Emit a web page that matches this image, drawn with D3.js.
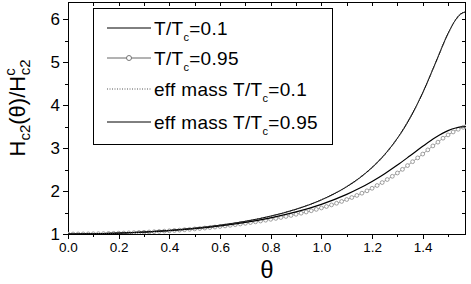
<!DOCTYPE html>
<html>
<head>
<meta charset="utf-8">
<script src="https://cdnjs.cloudflare.com/ajax/libs/d3/7.8.5/d3.min.js"></script>
<style>
    body { margin: 0; background: #fff; }
    svg { display: block; font-family: "Liberation Sans", Arial, sans-serif; }
    .axis path, .axis line { stroke: #000; stroke-width: 1; shape-rendering: crispEdges; }
</style>
</head>
<body>
<svg id="chart" width="471" height="284"></svg>
<script>

// theta grid for the smooth curves (rad)
var theta = [0, 0.1, 0.2, 0.3, 0.4, 0.5, 0.6, 0.7, 0.8, 0.9, 1.0, 1.1, 1.15, 1.2, 1.25,
    1.3, 1.35, 1.4, 1.45, 1.5, 1.53, 1.55, 1.5708];

// T/Tc = 0.1
var lowT = [1, 1.0049, 1.0198, 1.0454, 1.0831, 1.1350, 1.2042, 1.2954, 1.4157, 1.5762,
    1.7946, 2.1009, 2.3017, 2.5473, 2.8503, 3.2283, 3.7016, 4.2874, 4.9746, 5.6667,
    5.9877, 6.1210, 6.17];

// eff mass T/Tc = 0.1
var effLowT = [1, 1.0049, 1.0198, 1.0454, 1.0831, 1.1350, 1.2042, 1.2954, 1.4157, 1.5762,
    1.7946, 2.1009, 2.3017, 2.5473, 2.8503, 3.2283, 3.7016, 4.2874, 4.9746, 5.6667,
    5.9877, 6.1210, 6.17];

// eff mass T/Tc = 0.95
var effHighT = [1, 1.0046, 1.0187, 1.0427, 1.0778, 1.1258, 1.1891, 1.2712, 1.3770, 1.5136,
    1.6910, 1.9226, 2.0634, 2.2238, 2.4047, 2.6047, 2.8207, 3.0406, 3.2451, 3.4055,
    3.4678, 3.4915, 3.5];

// T/Tc = 0.95 (open circles), finer theta grid
var thetaFine = [0, 0.02, 0.04, 0.06, 0.08, 0.1, 0.12, 0.14, 0.16, 0.18, 0.2, 0.22, 0.24,
    0.26, 0.28, 0.3, 0.32, 0.34, 0.36, 0.38, 0.4, 0.42, 0.44, 0.46, 0.48, 0.5, 0.52, 0.54,
    0.56, 0.58, 0.6, 0.62, 0.64, 0.66, 0.68, 0.7, 0.72, 0.74, 0.76, 0.78, 0.8, 0.82, 0.84,
    0.86, 0.88, 0.9, 0.92, 0.94, 0.96, 0.98, 1.0, 1.02, 1.04, 1.06, 1.08, 1.1, 1.12, 1.14,
    1.16, 1.18, 1.2, 1.22, 1.24, 1.26, 1.28, 1.3, 1.32, 1.34, 1.36, 1.38, 1.4, 1.42, 1.44,
    1.46, 1.48, 1.5, 1.52, 1.54, 1.56, 1.5708];

var highT = [1.000, 1.000, 1.001, 1.002, 1.003, 1.005, 1.007, 1.009, 1.012, 1.015, 1.019,
    1.022, 1.026, 1.031, 1.036, 1.041, 1.047, 1.053, 1.060, 1.067, 1.074, 1.082, 1.090,
    1.099, 1.108, 1.118, 1.128, 1.139, 1.150, 1.162, 1.175, 1.188, 1.202, 1.217, 1.233,
    1.249, 1.266, 1.283, 1.302, 1.321, 1.342, 1.363, 1.384, 1.408, 1.432, 1.459, 1.484,
    1.512, 1.541, 1.573, 1.606, 1.640, 1.677, 1.716, 1.758, 1.803, 1.849, 1.898, 1.950,
    2.005, 2.064, 2.129, 2.197, 2.268, 2.343, 2.420, 2.505, 2.593, 2.683, 2.772, 2.861,
    2.958, 3.050, 3.138, 3.230, 3.306, 3.375, 3.437, 3.483, 3.500];

var xMajor = [0, 0.2, 0.4, 0.6, 0.8, 1.0, 1.2, 1.4];
var xMinor = [0.1, 0.3, 0.5, 0.7, 0.9, 1.1, 1.3, 1.5];
var yMajor = [1, 2, 3, 4, 5, 6];
var yMinor = [1.5, 2.5, 3.5, 4.5, 5.5];

var legendLabels = ["T/T|=0.1", "T/T|=0.95", "eff mass T/T|=0.1", "eff mass T/T|=0.95"];

(function () {

    var mLeft = 68, mRight = 466, mTop = 2, mBottom = 234;

    var svg = d3.select("#chart");

    var x = d3.scaleLinear().domain([0, Math.PI / 2]).range([mLeft, mRight]);
    var y = d3.scaleLinear().domain([1, 6.4]).range([mBottom, mTop]);

    // axes
    var fmt = d3.format(".1f");

    svg.append("g").attr("class", "axis").attr("transform", "translate(0," + mBottom + ")")
        .call(d3.axisBottom(x).tickValues(xMajor).tickFormat(fmt).tickSize(5).tickPadding(3))
        .call(function (g) {
            g.select(".domain").remove();
            g.selectAll("text").attr("font-size", 13.5).attr("font-family", "Liberation Sans, Arial");
        });
    svg.append("g").attr("class", "axis").attr("transform", "translate(0," + mBottom + ")")
        .call(d3.axisBottom(x).tickValues(xMinor).tickFormat("").tickSize(3))
        .call(function (g) { g.select(".domain").remove(); });

    svg.append("g").attr("class", "axis").attr("transform", "translate(0," + mTop + ")")
        .call(d3.axisTop(x).tickValues(xMajor.concat(xMinor)).tickFormat("").tickSize(-4))
        .call(function (g) { g.select(".domain").remove(); });

    svg.append("g").attr("class", "axis").attr("transform", "translate(" + mLeft + ",0)")
        .call(d3.axisLeft(y).tickValues(yMajor).tickFormat(d3.format("d")).tickSize(5).tickPadding(3))
        .call(function (g) {
            g.select(".domain").remove();
            g.selectAll("text").attr("font-size", 17).attr("font-family", "Liberation Sans, Arial");
        });
    svg.append("g").attr("class", "axis").attr("transform", "translate(" + mLeft + ",0)")
        .call(d3.axisLeft(y).tickValues(yMinor).tickFormat("").tickSize(3))
        .call(function (g) { g.select(".domain").remove(); });

    svg.append("g").attr("class", "axis").attr("transform", "translate(" + mRight + ",0)")
        .call(d3.axisRight(y).tickValues(yMajor.concat(yMinor)).tickFormat("").tickSize(-4))
        .call(function (g) { g.select(".domain").remove(); });

    // frame
    svg.append("rect")
        .attr("x", mLeft + 0.5).attr("y", mTop + 0.5)
        .attr("width", mRight - mLeft - 1).attr("height", mBottom - mTop)
        .attr("fill", "none").attr("stroke", "#000").attr("stroke-width", 1);

    // curves
    svg.append("clipPath").attr("id", "clip")
        .append("rect").attr("x", mLeft).attr("y", mTop)
        .attr("width", mRight - mLeft).attr("height", mBottom - mTop);
    var plot = svg.append("g").attr("clip-path", "url(#clip)");

    var line = d3.line()
        .x(function (d) { return x(d[0]); })
        .y(function (d) { return y(d[1]); })
        .curve(d3.curveMonotoneX);

    function pairs(xs, ys) {
        return xs.map(function (t, i) { return [t, ys[i]]; });
    }

    var highPts = pairs(thetaFine, highT);

    plot.append("path").datum(highPts).attr("d", line)
        .attr("fill", "none").attr("stroke", "#8a8a8a").attr("stroke-width", 0.8);
    plot.selectAll("circle.hi").data(highPts).enter().append("circle")
        .attr("class", "hi")
        .attr("cx", function (d) { return x(d[0]); })
        .attr("cy", function (d) { return y(d[1]); })
        .attr("r", 1.9)
        .attr("fill", "#fff").attr("stroke", "#888").attr("stroke-width", 0.8);

    plot.append("path").datum(pairs(theta, effHighT)).attr("d", line)
        .attr("fill", "none").attr("stroke", "#000").attr("stroke-width", 1.2);

    plot.append("path").datum(pairs(theta, lowT)).attr("d", line)
        .attr("fill", "none").attr("stroke", "#000").attr("stroke-width", 1);

    plot.append("path").datum(pairs(theta, effLowT)).attr("d", line)
        .attr("fill", "none").attr("stroke", "#333").attr("stroke-width", 1.2)
        .attr("stroke-dasharray", "1,1");

    // legend
    var lg = svg.append("g");
    lg.append("rect").attr("x", 93.5).attr("y", 8.5).attr("width", 239).attr("height", 136)
        .attr("fill", "#fff").attr("stroke", "#000").attr("stroke-width", 1);

    var rowY = [28, 58, 89, 122];
    var styles = [
        { stroke: "#000", dash: null, marker: false },
        { stroke: "#666", dash: null, marker: true },
        { stroke: "#555", dash: "1,1.5", marker: false },
        { stroke: "#000", dash: null, marker: false }
    ];

    legendLabels.forEach(function (lab, i) {
        var s = styles[i];
        lg.append("line").attr("x1", 107).attr("x2", 151).attr("y1", rowY[i]).attr("y2", rowY[i])
            .attr("stroke", s.stroke).attr("stroke-width", 1)
            .attr("stroke-dasharray", s.dash);
        if (s.marker) {
            lg.append("circle").attr("cx", 129).attr("cy", rowY[i]).attr("r", 2.5)
                .attr("fill", "#fff").attr("stroke", "#666").attr("stroke-width", 0.9);
        }
        var parts = lab.split("|");
        var t = lg.append("text").attr("x", 154).attr("y", rowY[i] + 6.5)
            .attr("font-size", 19).attr("letter-spacing", 0.3).attr("fill", "#000");
        t.append("tspan").text(parts[0]);
        t.append("tspan").attr("font-size", 11).attr("dy", 6).text("c");
        t.append("tspan").attr("dy", -6).text(parts[1]);
    });

    // axis titles
    var yt = svg.append("text")
        .attr("transform", "translate(25,108) rotate(-90)")
        .attr("text-anchor", "middle")
        .attr("font-size", 22);
    yt.append("tspan").text("H");
    yt.append("tspan").attr("font-size", 15).attr("dy", 5).text("c2");
    yt.append("tspan").attr("dy", -5).text("(θ)/H");
    yt.append("tspan").attr("font-size", 15).attr("dy", -10).text("c");
    yt.append("tspan").attr("font-size", 15).attr("dy", 15).attr("dx", -7).text("c2");

    svg.append("text")
        .attr("x", (mLeft + mRight) / 2).attr("y", 278)
        .attr("text-anchor", "middle")
        .attr("font-size", 24)
        .text("θ");

})();

</script>
</body>
</html>
